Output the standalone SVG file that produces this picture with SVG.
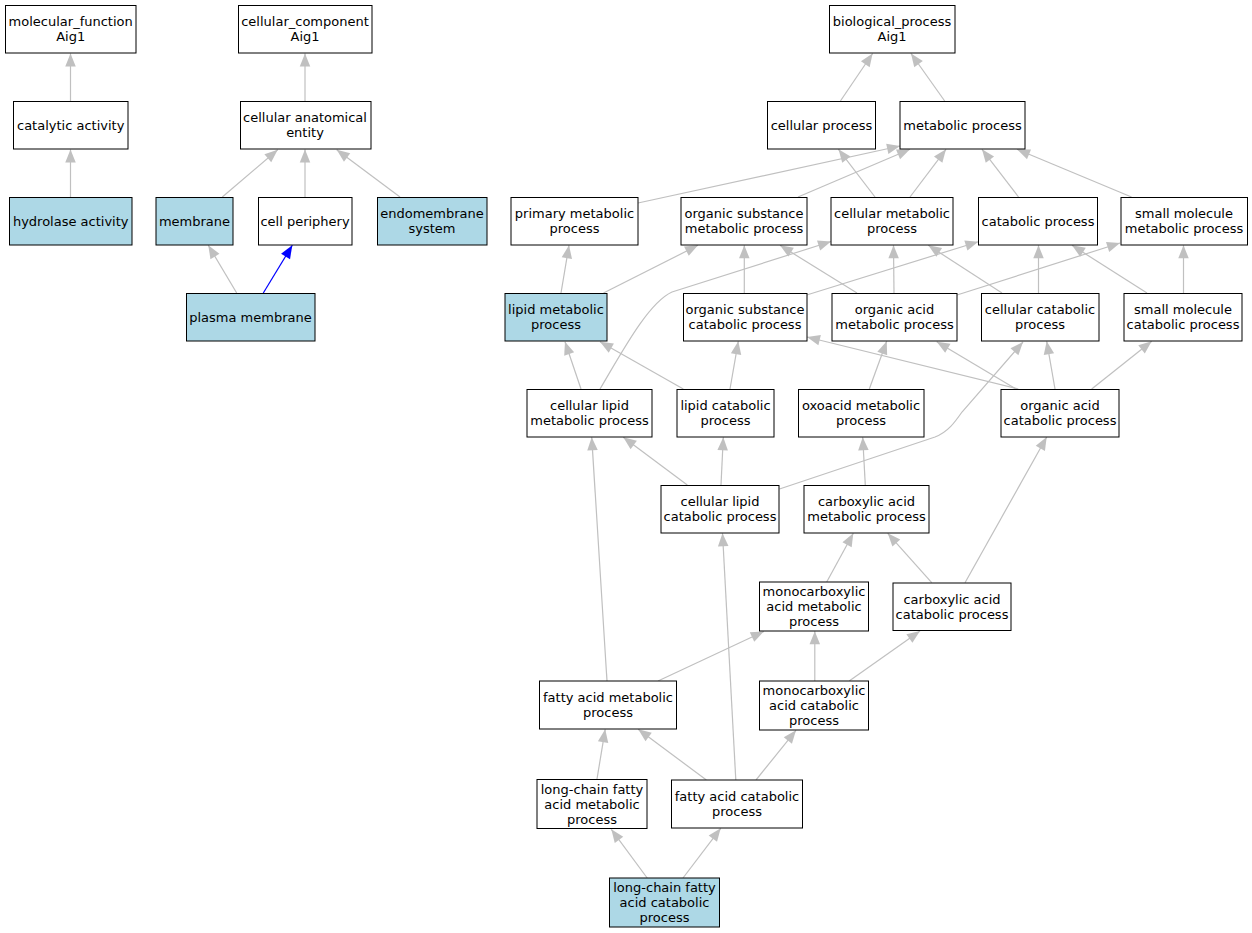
<svg xmlns="http://www.w3.org/2000/svg" width="1252" height="933" viewBox="0 0 1252 933">
<style>
.n rect{fill:#ffffff;stroke:#000000;stroke-width:1}
.n.b rect{fill:#add8e6}
text{font-family:"DejaVu Sans","Liberation Sans",sans-serif;font-size:13px;text-anchor:middle;fill:#000000}
.e path{stroke:#c0c0c0;stroke-width:1.2;fill:none;marker-end:url(#ah)}
.e path.blue{stroke:#0000ff;marker-end:url(#ahb)}
</style>
<defs>
<marker id="ah" markerUnits="userSpaceOnUse" markerWidth="14" markerHeight="11" refX="13" refY="5.25" orient="auto" overflow="visible"><path d="M0,0 L13,5.25 L0,10.5 z" fill="#c0c0c0"/></marker>
<marker id="ahb" markerUnits="userSpaceOnUse" markerWidth="14" markerHeight="11" refX="13" refY="5.25" orient="auto" overflow="visible"><path d="M0,0 L13,5.25 L0,10.5 z" fill="#0000ff"/></marker>
</defs>
<rect width="1252" height="933" fill="#ffffff"/>
<g id="connectors" class="e">
<path d="M70.5,101 L70.5,53.5"/>
<path d="M70.5,197 L70.5,149.5"/>
<path d="M305,101 L305,53.5"/>
<path d="M222.3,197 L277.7,149.7"/>
<path d="M305,197 L305,149.5"/>
<path d="M400,197 L336.7,149.7"/>
<path d="M236.7,293 L208.3,245.3"/>
<path class="blue" d="M263.3,293 L292.3,245.3"/>
<path d="M840.4,101 L872.6,53.5"/>
<path d="M944.7,101 L911,53.5"/>
<path d="M638,203 L900,146"/>
<path d="M798,197 L910,149.3"/>
<path d="M875,197 L838.5,149.3"/>
<path d="M910,197 L946,149.3"/>
<path d="M1018.5,197 L982,149.3"/>
<path d="M1131.5,197 L1017,149.3"/>
<path d="M561,293 L569,245.3"/>
<path d="M603.5,293 L698,245.3"/>
<path d="M744.3,293 L744.3,245.3"/>
<path d="M806.7,295 L978.3,241.7"/>
<path d="M857,293 L780,245.3"/>
<path d="M894,293 L893.5,245.3"/>
<path d="M957,295 L1120,243"/>
<path d="M1002,293 L928.3,245.3"/>
<path d="M1038.5,293 L1038.5,245.3"/>
<path d="M1147,293 L1072,245.3"/>
<path d="M1183.5,293 L1183.5,245.3"/>
<path d="M581,389 L565,341.7"/>
<path d="M600,389 C622,352 648,303 672,292 L831,241.5"/>
<path d="M683.3,389 L600,341.7"/>
<path d="M730,389 L738.3,341.3"/>
<path d="M869.3,389 L886.7,341.3"/>
<path d="M1018.3,389 L807,337"/>
<path d="M1016,389 L936.7,341.7"/>
<path d="M1055,389 L1046.7,341.3"/>
<path d="M1091.7,389 L1151.7,341.3"/>
<path d="M687.3,485 L623.3,437.3"/>
<path d="M721,485 L723.3,437.3"/>
<path d="M779.5,489 L935,437 C948,432 955,422 962,412 L1023,342"/>
<path d="M865.3,485 L862.7,437.3"/>
<path d="M826.7,582 L853.3,533.3"/>
<path d="M931.7,582.7 L887.7,533.3"/>
<path d="M965,582.7 L1046.7,437"/>
<path d="M607,681 L591.7,437.3"/>
<path d="M658,681 L763.8,631.5"/>
<path d="M814.8,681 L814.8,631.3"/>
<path d="M849.2,681 L920,631"/>
<path d="M597,779 L605.2,729.3"/>
<path d="M706.4,780 L638.2,729.3"/>
<path d="M735.8,780 L722.5,533.3"/>
<path d="M756,780 L796,730.3"/>
<path d="M647.2,878 L611.3,829.3"/>
<path d="M683,878 L720.7,828.3"/>
</g>
<g id="molecular_function" class="n"><rect x="5.5" y="5.5" width="130.5" height="47.5"/><text x="70.7" y="26">molecular_function</text><text x="70.7" y="41">Aig1</text></g>
<g id="catalytic_activity" class="n"><rect x="13.5" y="101.5" width="114.5" height="47.5"/><text x="70.7" y="129.5">catalytic activity</text></g>
<g id="hydrolase_activity" class="n b"><rect x="9.5" y="197.5" width="122.5" height="47.5"/><text x="70.7" y="225.5">hydrolase activity</text></g>
<g id="cellular_component" class="n"><rect x="238.5" y="5.5" width="133.5" height="47.5"/><text x="305" y="26">cellular_component</text><text x="305" y="41">Aig1</text></g>
<g id="cellular_anatomical_entity" class="n"><rect x="240.5" y="101.5" width="130.5" height="47.5"/><text x="305" y="122">cellular anatomical</text><text x="305" y="137">entity</text></g>
<g id="membrane" class="n b"><rect x="156" y="197.5" width="77" height="47.5"/><text x="194.5" y="225.5">membrane</text></g>
<g id="cell_periphery" class="n"><rect x="258.5" y="197.5" width="93.5" height="47.5"/><text x="305" y="225.5">cell periphery</text></g>
<g id="endomembrane_system" class="n b"><rect x="377.5" y="197.5" width="109.5" height="47.5"/><text x="432" y="218">endomembrane</text><text x="432" y="233">system</text></g>
<g id="plasma_membrane" class="n b"><rect x="186.5" y="293.5" width="128.5" height="47.5"/><text x="250.5" y="321.5">plasma membrane</text></g>
<g id="biological_process" class="n"><rect x="829.5" y="5.5" width="125.5" height="47.5"/><text x="892" y="26">biological_process</text><text x="892" y="41">Aig1</text></g>
<g id="cellular_process" class="n"><rect x="767.5" y="101.5" width="108" height="47.5"/><text x="821.5" y="129.5">cellular process</text></g>
<g id="metabolic_process" class="n"><rect x="900" y="101.5" width="125" height="47.5"/><text x="962.5" y="129.5">metabolic process</text></g>
<g id="primary_metabolic_process" class="n"><rect x="511" y="197.5" width="127" height="47.5"/><text x="574.5" y="218">primary metabolic</text><text x="574.5" y="233">process</text></g>
<g id="organic_substance_metabolic_process" class="n"><rect x="681" y="197.5" width="126" height="47.5"/><text x="744" y="218">organic substance</text><text x="744" y="233">metabolic process</text></g>
<g id="cellular_metabolic_process" class="n"><rect x="831" y="197.5" width="122" height="47.5"/><text x="892" y="218">cellular metabolic</text><text x="892" y="233">process</text></g>
<g id="catabolic_process" class="n"><rect x="978.5" y="197.5" width="119" height="47.5"/><text x="1038" y="225.5">catabolic process</text></g>
<g id="small_molecule_metabolic_process" class="n"><rect x="1121" y="197.5" width="126.5" height="47.5"/><text x="1184" y="218">small molecule</text><text x="1184" y="233">metabolic process</text></g>
<g id="lipid_metabolic_process" class="n b"><rect x="505" y="293.5" width="102" height="47.5"/><text x="556" y="314">lipid metabolic</text><text x="556" y="329">process</text></g>
<g id="organic_substance_catabolic_process" class="n"><rect x="683.5" y="293.5" width="123.5" height="47.5"/><text x="745" y="314">organic substance</text><text x="745" y="329">catabolic process</text></g>
<g id="organic_acid_metabolic_process" class="n"><rect x="832" y="293.5" width="125" height="47.5"/><text x="894.5" y="314">organic acid</text><text x="894.5" y="329">metabolic process</text></g>
<g id="cellular_catabolic_process" class="n"><rect x="981.5" y="293.5" width="117.5" height="47.5"/><text x="1040" y="314">cellular catabolic</text><text x="1040" y="329">process</text></g>
<g id="small_molecule_catabolic_process" class="n"><rect x="1124" y="293.5" width="118" height="47.5"/><text x="1183" y="314">small molecule</text><text x="1183" y="329">catabolic process</text></g>
<g id="cellular_lipid_metabolic_process" class="n"><rect x="527" y="389.5" width="125" height="47.5"/><text x="589.5" y="410">cellular lipid</text><text x="589.5" y="425">metabolic process</text></g>
<g id="lipid_catabolic_process" class="n"><rect x="677" y="389.5" width="97" height="47.5"/><text x="725.5" y="410">lipid catabolic</text><text x="725.5" y="425">process</text></g>
<g id="oxoacid_metabolic_process" class="n"><rect x="798.5" y="389.5" width="125.5" height="47.5"/><text x="861" y="410">oxoacid metabolic</text><text x="861" y="425">process</text></g>
<g id="organic_acid_catabolic_process" class="n"><rect x="1001" y="389.5" width="118" height="47.5"/><text x="1060" y="410">organic acid</text><text x="1060" y="425">catabolic process</text></g>
<g id="cellular_lipid_catabolic_process" class="n"><rect x="661" y="485.5" width="118" height="47.5"/><text x="720" y="506">cellular lipid</text><text x="720" y="521">catabolic process</text></g>
<g id="carboxylic_acid_metabolic_process" class="n"><rect x="804" y="485.5" width="125" height="47.5"/><text x="866.5" y="506">carboxylic acid</text><text x="866.5" y="521">metabolic process</text></g>
<g id="monocarboxylic_acid_metabolic_process" class="n"><rect x="759.5" y="582" width="109" height="49"/><text x="814" y="596">monocarboxylic</text><text x="814" y="611">acid metabolic</text><text x="814" y="626">process</text></g>
<g id="carboxylic_acid_catabolic_process" class="n"><rect x="893" y="583" width="118" height="47.5"/><text x="952" y="603.5">carboxylic acid</text><text x="952" y="618.5">catabolic process</text></g>
<g id="fatty_acid_metabolic_process" class="n"><rect x="539.5" y="681" width="137" height="48"/><text x="608" y="701.5">fatty acid metabolic</text><text x="608" y="716.5">process</text></g>
<g id="monocarboxylic_acid_catabolic_process" class="n"><rect x="759.5" y="681" width="109" height="49"/><text x="814" y="695">monocarboxylic</text><text x="814" y="710">acid catabolic</text><text x="814" y="725">process</text></g>
<g id="long-chain_fatty_acid_metabolic_process" class="n"><rect x="537" y="779.5" width="110" height="49"/><text x="592" y="793.5">long-chain fatty</text><text x="592" y="808.5">acid metabolic</text><text x="592" y="823.5">process</text></g>
<g id="fatty_acid_catabolic_process" class="n"><rect x="671.5" y="780" width="131" height="48"/><text x="737" y="800.5">fatty acid catabolic</text><text x="737" y="815.5">process</text></g>
<g id="long-chain_fatty_acid_catabolic_process" class="n b"><rect x="609.5" y="878" width="110" height="49"/><text x="664.5" y="892">long-chain fatty</text><text x="664.5" y="907">acid catabolic</text><text x="664.5" y="922">process</text></g>
</svg>
